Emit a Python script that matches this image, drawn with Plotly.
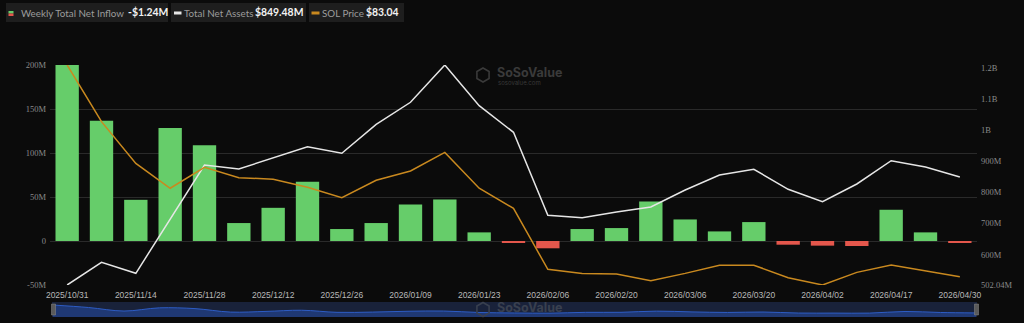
import plotly.graph_objects as go

# ---------------- data ----------------
dates = ["2025/10/31", "2025/11/07", "2025/11/14", "2025/11/21", "2025/11/28", "2025/12/05",
         "2025/12/12", "2025/12/19", "2025/12/26", "2026/01/02", "2026/01/09", "2026/01/16",
         "2026/01/23", "2026/01/30", "2026/02/06", "2026/02/13", "2026/02/20", "2026/02/27",
         "2026/03/06", "2026/03/13", "2026/03/20", "2026/03/27", "2026/04/02", "2026/04/10",
         "2026/04/17", "2026/04/24", "2026/04/30"]
net_inflow_m = [200.0, 136.6, 46.8, 128.3, 108.7, 20.4, 37.7, 67.2, 13.6, 20.4, 41.5, 47.2,
                9.8, -2.3, -8.3, 13.6, 14.7, 44.9, 24.5, 10.9, 21.5, -4.2, -5.3, -5.7,
                35.5, 9.8, -1.24]
total_assets_m = [502.04, 575.0, 539.7, 713.3, 887.9, 875.0, 911.0, 946.7, 925.5, 1018.7,
                  1089.5, 1209.4, 1078.6, 993.0, 726.0, 718.5, 736.8, 752.8, 807.5, 855.7,
                  874.0, 809.7, 770.0, 826.8, 901.7, 881.5, 849.48]
sol_price = [187.0, 159.2, 138.7, 126.5, 136.8, 131.7, 130.9, 127.0, 121.9, 130.4, 135.0,
             144.1, 126.5, 116.6, 86.7, 84.6, 84.4, 81.1, 84.7, 88.7, 88.7, 82.6, 79.0,
             85.2, 88.8, 85.9, 83.04]
x_tick_labels = dates[::2]
left_ticks_m = [-50, 0, 50, 100, 150, 200]
left_tick_text = ["-50M", "0", "50M", "100M", "150M", "200M"]
right_ticks_m = [502.04, 600, 700, 800, 900, 1000, 1100, 1200]
right_tick_text = ["502.04M", "600M", "700M", "800M", "900M", "1B", "1.1B", "1.2B"]
series_names = ["Weekly Total Net Inflow", "Total Net Assets", "SOL Price"]

# ---------------- layout helpers ----------------
W, H = 1024, 323
ML, MR, MT, MB = 50, 47, 65, 4
PW, PH = W - ML - MR, H - MT - MB


def px(xp):
    return (xp - ML) / PW


def py(yp):
    return (H - MB - yp) / PH


BG = "#0b0b0b"
GREEN = "#66cd6a"
RED = "#e4574c"
WHITE = "#e6e6e6"
ORANGE = "#c9891f"

inflow = [v * 1e6 for v in net_inflow_m]
assets = [v * 1e6 for v in total_assets_m]

fig = go.Figure()

fig.add_trace(go.Bar(
    x=dates, y=inflow, name=series_names[0],
    marker=dict(color=[GREEN if v >= 0 else RED for v in inflow], line=dict(width=0)),
    xaxis="x", yaxis="y", showlegend=False))
fig.add_trace(go.Scatter(
    x=dates, y=assets, name=series_names[1], mode="lines",
    line=dict(color=WHITE, width=1.5), xaxis="x", yaxis="y2", showlegend=False))
fig.add_trace(go.Scatter(
    x=dates, y=sol_price, name=series_names[2], mode="lines",
    line=dict(color=ORANGE, width=1.5), xaxis="x", yaxis="y3", showlegend=False))

# slider (mini overview of weekly inflow)
slider_lo, slider_hi = -105e6, 277e6
fig.add_trace(go.Scatter(
    x=list(range(len(dates))), y=[slider_lo] * len(dates), mode="lines",
    line=dict(width=0), xaxis="x2", yaxis="y4", showlegend=False, hoverinfo="skip"))
fig.add_trace(go.Scatter(
    x=list(range(len(dates))), y=inflow, mode="lines", fill="tonexty",
    fillcolor="#1f3873", line=dict(color="#2d5cc4", width=1, shape="spline"),
    xaxis="x2", yaxis="y4", showlegend=False, hoverinfo="skip"))

main_bottom = py(285)

fig.update_layout(
    width=W, height=H,
    margin=dict(l=ML, r=MR, t=MT, b=MB, autoexpand=False),
    paper_bgcolor=BG, plot_bgcolor=BG,
    bargap=0.32,
    xaxis=dict(domain=[0, 1], anchor="y", type="category", range=[-0.5, len(dates) - 0.5],
               tickmode="array", tickvals=x_tick_labels, ticktext=x_tick_labels,
               showgrid=False, zeroline=False, showline=False, ticks="", ticklabelstandoff=3,
               tickfont=dict(family="Liberation Sans", size=8.5, color="#b8b8b8")),
    yaxis=dict(domain=[main_bottom, 1], range=[-50e6, 200e6],
               tickmode="array", tickvals=[v * 1e6 for v in left_ticks_m], ticktext=left_tick_text,
               showgrid=True, gridcolor="#2a2a2a", gridwidth=1, zeroline=False,
               showline=False, ticks="", ticklabelstandoff=3,
               tickfont=dict(family="Liberation Serif", size=8.5, color="#8a8a8a")),
    yaxis2=dict(domain=[main_bottom, 1], overlaying="y", side="right", anchor="x",
                range=[min(assets), max(assets)],
                tickmode="array", tickvals=[v * 1e6 for v in right_ticks_m], ticktext=right_tick_text,
                showgrid=False, zeroline=False, showline=False, ticks="", ticklabelstandoff=3,
                tickfont=dict(family="Liberation Serif", size=8.5, color="#8a8a8a")),
    yaxis3=dict(domain=[main_bottom, 1], overlaying="y", anchor="x",
                range=[min(sol_price), max(sol_price)], visible=False),
    xaxis2=dict(domain=[px(53), px(976)], anchor="y4", range=[0, len(dates) - 1],
                visible=False),
    yaxis4=dict(domain=[py(317), py(302)], anchor="x2", range=[slider_lo, slider_hi],
                visible=False),
)

shapes = []
annotations = []

# slider background and handles
shapes.append(dict(type="rect", xref="paper", yref="paper", x0=px(52), x1=px(977),
                   y0=py(317), y1=py(302), fillcolor="#19223a", line=dict(width=0), layer="below"))
for hx in (53.5, 976.5):
    shapes.append(dict(type="rect", xref="paper", yref="paper", x0=px(hx - 2), x1=px(hx + 2),
                       y0=py(315), y1=py(304), fillcolor="#5a5a5a",
                       line=dict(color="#8a8a8a", width=0.5), layer="above"))

# legend boxes
legend_boxes = [(6, 168), (171, 306), (309, 404)]
for x0, x1 in legend_boxes:
    shapes.append(dict(type="rect", xref="paper", yref="paper", x0=px(x0), x1=px(x1),
                       y0=py(22), y1=py(3), fillcolor="#1e1e1e", line=dict(width=0)))
# legend icons
shapes.append(dict(type="rect", xref="paper", yref="paper", x0=px(8.5), x1=px(13.5),
                   y0=py(13.5), y1=py(11), fillcolor=GREEN, line=dict(width=0)))
shapes.append(dict(type="rect", xref="paper", yref="paper", x0=px(8.5), x1=px(13.5),
                   y0=py(16), y1=py(13.5), fillcolor=RED, line=dict(width=0)))
shapes.append(dict(type="rect", xref="paper", yref="paper", x0=px(174), x1=px(181.5),
                   y0=py(14.5), y1=py(11.5), fillcolor=WHITE, line=dict(width=0)))
shapes.append(dict(type="rect", xref="paper", yref="paper", x0=px(311.5), x1=px(319.5),
                   y0=py(14.5), y1=py(11.5), fillcolor=ORANGE, line=dict(width=0)))


def fmt_m(v):
    s = "-" if v < 0 else ""
    return f"{s}${abs(v):,.2f}M"


legend_items = [
    (19, series_names[0], 126, fmt_m(net_inflow_m[-1])),
    (182, series_names[1], 253, fmt_m(total_assets_m[-1])),
    (320, series_names[2], 364, f"${sol_price[-1]:.2f}"),
]
for lx, label, vx, val in legend_items:
    annotations.append(dict(xref="paper", yref="paper", x=px(lx), y=py(13), xanchor="left",
                            yanchor="middle", showarrow=False, text=label,
                            font=dict(family="Lato", size=9.8, color="#9c9c9c")))
    annotations.append(dict(xref="paper", yref="paper", x=px(vx), y=py(12.5), xanchor="left",
                            yanchor="middle", showarrow=False, text=f"<b>{val}</b>",
                            font=dict(family="Lato", size=10.4, color="#f2f2f2")))

# watermarks
def hexagon(cx, cy, r):
    pts = [(cx, cy - r), (cx + 0.87 * r, cy - r / 2), (cx + 0.87 * r, cy + r / 2),
           (cx, cy + r), (cx - 0.87 * r, cy + r / 2), (cx - 0.87 * r, cy - r / 2)]
    return "M " + " L ".join(f"{px(a):.5f},{py(b):.5f}" for a, b in pts) + " Z"


for cx, cy, col, sub in ((483, 75, "#3a3a3a", True), (483, 309.5, "#39404f", False)):
    shapes.append(dict(type="path", xref="paper", yref="paper", path=hexagon(cx, cy, 7),
                       line=dict(color=col, width=1.6), fillcolor="rgba(0,0,0,0)"))
    annotations.append(dict(xref="paper", yref="paper", x=px(495), y=py(cy - 2.5),
                            xanchor="left", yanchor="middle", showarrow=False,
                            text="<b>SoSoValue</b>",
                            font=dict(family="Inter", size=12.5, color=col)))
    if sub:
        annotations.append(dict(xref="paper", yref="paper", x=px(496), y=py(cy + 7),
                                xanchor="left", yanchor="middle", showarrow=False,
                                text="sosovalue.com",
                                font=dict(family="Inter", size=6, color=col)))

fig.update_layout(shapes=shapes, annotations=annotations)

fig.write_html("out.html")
